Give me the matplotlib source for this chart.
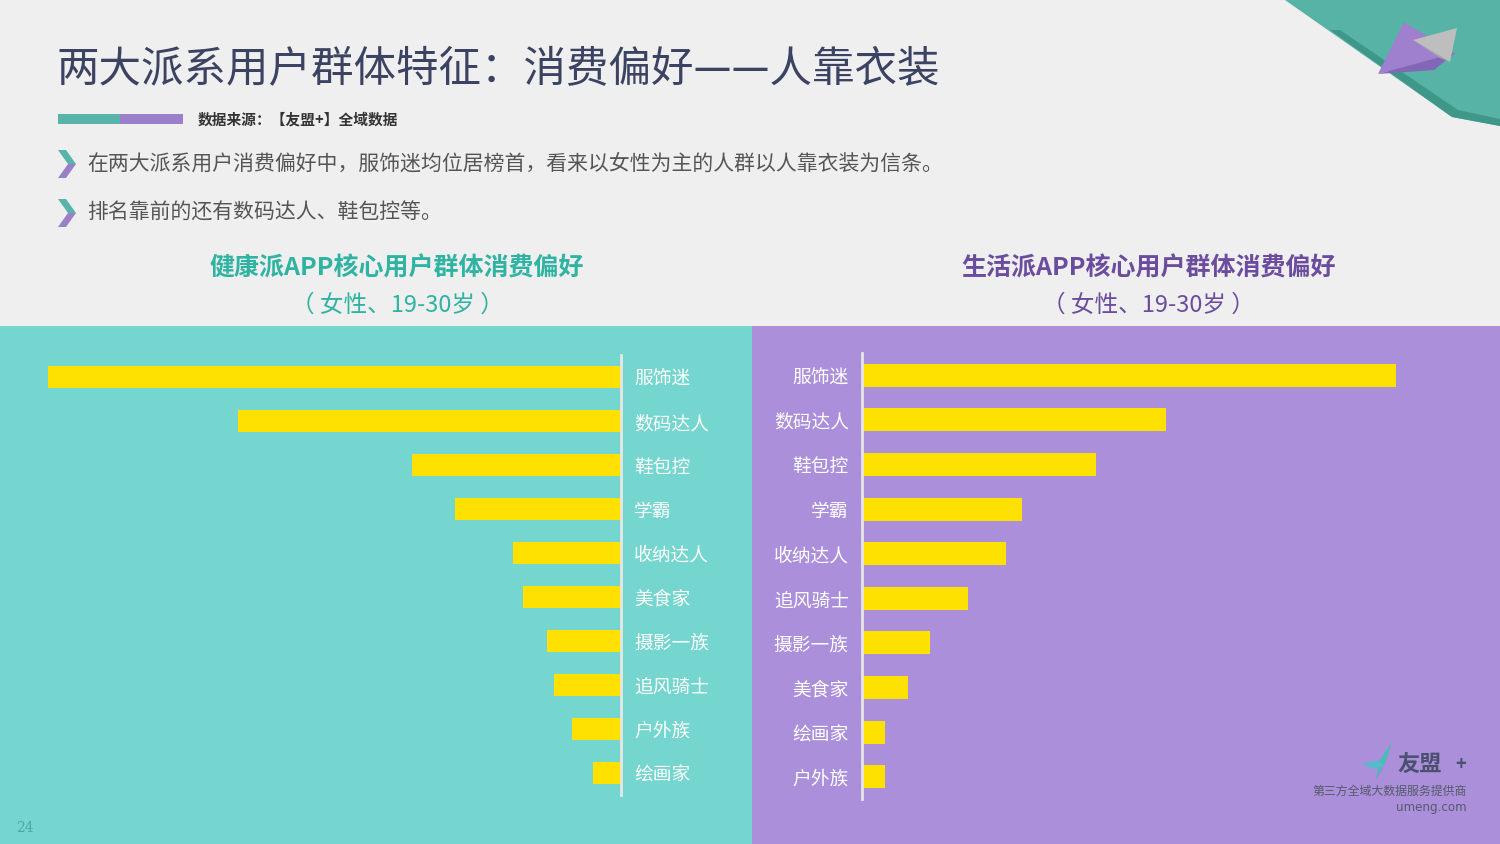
import matplotlib
matplotlib.use("Agg")
import matplotlib.pyplot as plt
from matplotlib.patches import Polygon, Rectangle

plt.rcParams['font.family'] = ['Noto Sans CJK SC', 'DejaVu Sans']

# ---------------- data ----------------
left_categories = ["服饰迷", "数码达人", "鞋包控", "学霸", "收纳达人", "美食家", "摄影一族", "追风骑士", "户外族", "绘画家"]
left_values = [57.3, 38.3, 20.9, 16.6, 10.8, 9.8, 7.4, 6.7, 4.9, 2.8]

right_categories = ["服饰迷", "数码达人", "鞋包控", "学霸", "收纳达人", "追风骑士", "摄影一族", "美食家", "绘画家", "户外族"]
right_values = [53.4, 30.4, 23.4, 16.0, 14.4, 10.6, 6.8, 4.6, 2.3, 2.3]

title = "两大派系用户群体特征：消费偏好——人靠衣装"
source = "数据来源：【友盟+】全域数据"
bullets = ["在两大派系用户消费偏好中，服饰迷均位居榜首，看来以女性为主的人群以人靠衣装为信条。",
           "排名靠前的还有数码达人、鞋包控等。"]
left_title = "健康派APP核心用户群体消费偏好"
right_title = "生活派APP核心用户群体消费偏好"
sub_title = "（ 女性、19-30岁 ）"
page_no = "24"

# ---------------- colours ----------------
BG = "#EFEFEF"
TEAL_PANEL = "#74D6CF"
PURPLE_PANEL = "#AB8FDA"
YELLOW = "#FFE100"
TEAL = "#58B4A8"
PURPLE = "#9B7FC8"
TITLE_C = "#3B4262"

W, H = 1500, 844
fig = plt.figure(figsize=(15, 8.44), dpi=100, facecolor=BG)

# overlay axes in pixel coordinates
bg = fig.add_axes([0, 0, 1, 1])
bg.set_xlim(0, W)
bg.set_ylim(H, 0)
bg.axis("off")
bg.set_zorder(0)

# panels
bg.add_patch(Rectangle((0, 326), 752, H - 326, color=TEAL_PANEL, lw=0))
bg.add_patch(Rectangle((752, 326), W - 752, H - 326, color=PURPLE_PANEL, lw=0))

# top-right decoration
bg.add_patch(Polygon([(1285, 0), (1500, 0), (1500, 126), (1452, 117)], closed=True, color="#56B3A6", lw=0))
bg.add_patch(Polygon([(1330, 30), (1452, 117), (1500, 126), (1500, 119), (1458, 110), (1340, 30)],
                     closed=True, color="#3F978A", lw=0))
bg.add_patch(Polygon([(1378, 74), (1404, 22), (1455, 53)], closed=True, color="#9E80CE", lw=0))
bg.add_patch(Polygon([(1378, 74), (1455, 53), (1434, 70)], closed=True, color="#8466B8", lw=0))
bg.add_patch(Polygon([(1413, 40), (1457, 28), (1450, 62)], closed=True, color="#BEBEBE", lw=0))
bg.add_patch(Polygon([(1413, 40), (1450, 62), (1440, 58)], closed=True, color="#A8A8A8", lw=0))

# title
bg.text(56, 70, title, fontsize=30.6, color=TITLE_C, va="center", ha="left", fontweight="medium")

# source bar
bg.add_patch(Rectangle((58, 114), 62, 10, color=TEAL, lw=0))
bg.add_patch(Rectangle((120, 114), 63, 10, color=PURPLE, lw=0))
bg.text(198, 119, source, fontsize=10.6, color="#333333", va="center", ha="left", fontweight="bold")

# bullets
for i, (txt, yc) in enumerate(zip(bullets, [164, 213])):
    x0 = 58
    bg.add_patch(Polygon([(x0, yc - 14), (x0 + 8, yc - 14), (x0 + 18, yc), (x0 + 10, yc)],
                         closed=True, color=TEAL, lw=0))
    bg.add_patch(Polygon([(x0 + 10, yc), (x0 + 18, yc), (x0 + 8, yc + 14), (x0, yc + 14)],
                         closed=True, color=PURPLE, lw=0))
    bg.text(87, yc, txt, fontsize=15.0, color="#555555", va="center", ha="left")

# panel titles
bg.text(397, 268, left_title, fontsize=18, color="#2FB3A2", ha="center", va="center", fontweight="bold")
bg.text(397, 305, sub_title, fontsize=17, color="#2FB3A2", ha="center", va="center")
bg.text(1148, 268, right_title, fontsize=18, color="#6B4C9E", ha="center", va="center", fontweight="bold")
bg.text(1148, 305, sub_title, fontsize=17, color="#6B4C9E", ha="center", va="center")

# page number
bg.text(16, 828, page_no, fontsize=10, color="#4FA7A0", ha="left", va="center", family="DejaVu Serif")

# logo
bg.add_patch(Polygon([(1392, 742), (1380, 760), (1376, 779), (1386, 760)], closed=True, color="#3FC2B4", lw=0))
bg.add_patch(Polygon([(1362, 764), (1378, 760), (1384, 766), (1374, 769)], closed=True, color="#5AB9C8", lw=0))
bg.add_patch(Polygon([(1376, 779), (1384, 766), (1390, 752), (1382, 770)], closed=True, color="#7A6CC8", lw=0))
bg.text(1397, 764, "友盟", fontsize=16, color="#4A5070", ha="left", va="center", fontweight="bold")
bg.text(1461, 764, "+", fontsize=13, color="#4A5070", ha="center", va="center", fontweight="bold")
bg.text(1467, 791, "第三方全域大数据服务提供商", fontsize=8.6, color="#555A6A", ha="right", va="center")
bg.text(1467, 807, "umeng.com", fontsize=8.6, color="#555A6A", ha="right", va="center", family="DejaVu Sans")


def px_axes(x0, x1, y0, y1):
    return fig.add_axes([x0 / W, 1 - y1 / H, (x1 - x0) / W, (y1 - y0) / H])


LABEL_FS = 13.5
AX_LINE = "#E6E6E6"

# ---------------- left chart ----------------
axl = px_axes(21, 621, 355, 795)
axl.set_facecolor("none")
ypos = list(range(len(left_categories)))
axl.barh(ypos, left_values, height=0.52, color=YELLOW, lw=0)
axl.set_xlim(60, 0)
axl.set_ylim(len(left_categories) - 0.5, -0.5)
axl.set_yticks(ypos)
axl.set_yticklabels(left_categories)
axl.yaxis.tick_right()
axl.tick_params(axis="y", length=0, pad=9.5, labelsize=LABEL_FS, labelcolor="white")
axl.set_xticks([])
for s in ["left", "top", "bottom"]:
    axl.spines[s].set_visible(False)
axl.spines["right"].set_color(AX_LINE)
axl.spines["right"].set_linewidth(2)

# ---------------- right chart ----------------
axr = px_axes(862, 1462, 353, 799)
axr.set_facecolor("none")
ypos_r = list(range(len(right_categories)))
axr.barh(ypos_r, right_values, height=0.52, color=YELLOW, lw=0)
axr.set_xlim(0, 60)
axr.set_ylim(len(right_categories) - 0.5, -0.5)
axr.set_yticks(ypos_r)
axr.set_yticklabels(right_categories)
axr.tick_params(axis="y", length=0, pad=9.5, labelsize=LABEL_FS, labelcolor="white")
axr.set_xticks([])
for s in ["right", "top", "bottom"]:
    axr.spines[s].set_visible(False)
axr.spines["left"].set_color(AX_LINE)
axr.spines["left"].set_linewidth(2)

fig.savefig("out.png", dpi=100, facecolor=BG)
